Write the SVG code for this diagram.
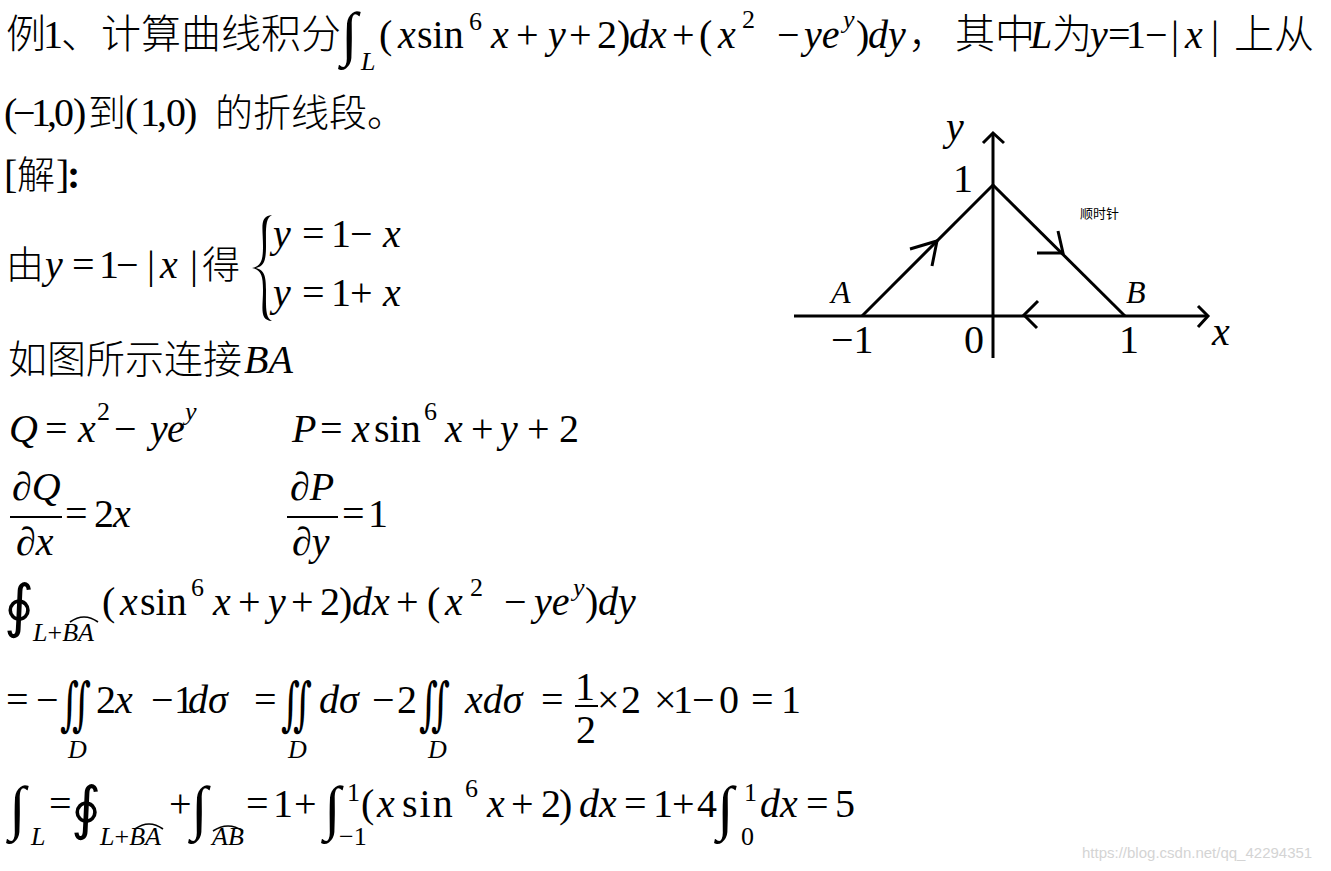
<svg xmlns="http://www.w3.org/2000/svg" width="1331" height="871" viewBox="0 0 1331 871">
<style>
.t{font-family:'Liberation Serif','Times New Roman',serif;font-size:40px;fill:#000}
.i{font-style:italic}
.s{font-size:26px}
.c{font-family:'Noto Sans CJK SC','Noto Sans CJK JP',sans-serif;font-size:38px;font-weight:300;fill:#000}
.c40{font-size:40px}
.int{font-family:'Liberation Serif','DejaVu Serif',serif;font-size:60px;fill:#000}
.int2{font-family:'DejaVu Serif','Liberation Serif',serif;font-size:58px;fill:#000}
.ln{stroke:#000;stroke-width:3;fill:none}
.thin{stroke:#000;stroke-width:1.6;fill:none}
.bar{stroke:#000;stroke-width:2}
.wm{font-family:'Liberation Sans',Arial,sans-serif;font-size:15px;fill:#d4d4d4}
</style>
<rect width="1331" height="871" fill="#fff"/>

<g id="line1">
<text class="c c40" y="48"><tspan x="6">例</tspan><tspan x="61">、计算曲线积分</tspan></text>
<text class="int" x="341" y="54">∫</text>
<text class="t" y="48"><tspan x="43">1</tspan><tspan class="i s" x="361" y="70">L</tspan><tspan x="379" y="48">(</tspan><tspan class="i" x="398">x</tspan><tspan x="417">sin</tspan><tspan class="s" x="469" y="30">6</tspan><tspan class="i" x="491" y="48">x</tspan><tspan x="516">+</tspan><tspan class="i" x="548">y</tspan><tspan x="569">+</tspan><tspan x="597">2</tspan><tspan x="617">)</tspan><tspan class="i" x="629">dx</tspan><tspan x="672">+</tspan><tspan x="699">(</tspan><tspan class="i" x="718">x</tspan><tspan class="s" x="742" y="28">2</tspan><tspan x="777" y="48">−</tspan><tspan class="i" x="804">ye</tspan><tspan class="i s" x="843" y="28">y</tspan><tspan x="856" y="48">)</tspan><tspan class="i" x="868">dy</tspan></text>
<text class="c c40" y="48"><tspan x="908">，</tspan><tspan x="955">其中</tspan><tspan x="1052">为</tspan><tspan x="1234">上从</tspan></text>
<text class="t" y="48"><tspan class="i" x="1030">L</tspan><tspan class="i" x="1090">y</tspan><tspan x="1108">=</tspan><tspan x="1126">1</tspan><tspan x="1145">−</tspan><tspan x="1171">|</tspan><tspan class="i" x="1185">x</tspan><tspan x="1211">|</tspan></text>
</g>

<g id="line2">
<text class="t" y="126"><tspan x="4">(</tspan><tspan x="13">−</tspan><tspan x="31">1</tspan><tspan x="47">,</tspan><tspan x="54">0</tspan><tspan x="73">)</tspan><tspan x="125">(</tspan><tspan x="140">1</tspan><tspan x="157">,</tspan><tspan x="166">0</tspan><tspan x="184">)</tspan></text>
<text class="c" y="126"><tspan x="88">到</tspan><tspan x="215">的折线段。</tspan></text>
</g>

<g id="line3">
<text class="t" y="188"><tspan x="4">[</tspan><tspan x="56">]</tspan><tspan x="67" font-weight="bold">:</tspan></text>
<text class="c" x="17" y="188">解</text>
</g>

<g id="line4">
<text class="c" y="278"><tspan x="6">由</tspan><tspan x="202">得</tspan></text>
<text class="t" y="278"><tspan class="i" x="45">y</tspan><tspan x="72">=</tspan><tspan x="99">1</tspan><tspan x="116">−</tspan><tspan x="147">|</tspan><tspan class="i" x="160">x</tspan><tspan x="190">|</tspan></text>
<path d="M272,215 C259,216 263,228 263,246 C263,261 261,266 252,268 C261,270 263,275 263,290 C263,308 259,320 272,321 C265,318 266,306 266,290 C266,275 264,270 256,268 C264,266 266,261 266,246 C266,230 265,218 272,215 Z" fill="#000"/>
<text class="t" y="247"><tspan class="i" x="273">y</tspan><tspan x="302">=</tspan><tspan x="331">1</tspan><tspan x="350">−</tspan><tspan class="i" x="383">x</tspan></text>
<text class="t" y="306"><tspan class="i" x="273">y</tspan><tspan x="302">=</tspan><tspan x="331">1</tspan><tspan x="350">+</tspan><tspan class="i" x="383">x</tspan></text>
</g>

<g id="line5">
<text class="c" x="8" y="373" style="font-size:39px">如图所示连接</text>
<text class="t i" x="244" y="373">BA</text>
</g>

<g id="line6">
<text class="t" y="442"><tspan class="i" x="9">Q</tspan><tspan x="45">=</tspan><tspan class="i" x="78">x</tspan><tspan class="s" x="97" y="420">2</tspan><tspan x="114" y="442">−</tspan><tspan class="i" x="150">y</tspan><tspan class="i" x="167">e</tspan><tspan class="i s" x="185" y="420">y</tspan></text>
<text class="t" y="442"><tspan class="i" x="292">P</tspan><tspan x="320">=</tspan><tspan class="i" x="352">x</tspan><tspan x="374">sin</tspan><tspan class="s" x="424" y="420">6</tspan><tspan class="i" x="445" y="442">x</tspan><tspan x="471">+</tspan><tspan class="i" x="500">y</tspan><tspan x="527">+</tspan><tspan x="559">2</tspan></text>
</g>

<g id="line7">
<text class="t i" x="12" y="500">∂Q</text>
<line class="bar" x1="10" y1="517" x2="62" y2="517"/>
<text class="t i" x="16" y="555">∂x</text>
<text class="t" y="527"><tspan x="65">=</tspan><tspan x="94">2</tspan><tspan class="i" x="113">x</tspan></text>
<text class="t i" x="290" y="500">∂P</text>
<line class="bar" x1="287" y1="517" x2="338" y2="517"/>
<text class="t i" x="292" y="555">∂y</text>
<text class="t" y="527"><tspan x="342">=</tspan><tspan x="368">1</tspan></text>
</g>

<g id="line8">
<text class="int2" x="4" y="626">∮</text>
<text class="t s" x="33" y="641"><tspan class="i">L</tspan>+<tspan class="i">BA</tspan></text>
<path class="thin" d="M70,622 Q84,612 98,622"/>
<text class="t" y="615"><tspan x="102">(</tspan><tspan class="i" x="120">x</tspan><tspan x="140">sin</tspan><tspan class="s" x="191" y="596">6</tspan><tspan class="i" x="213" y="615">x</tspan><tspan x="238">+</tspan><tspan class="i" x="268">y</tspan><tspan x="291">+</tspan><tspan x="320">2</tspan><tspan x="339">)</tspan><tspan class="i" x="352">dx</tspan><tspan x="396">+</tspan><tspan x="427">(</tspan><tspan class="i" x="445">x</tspan><tspan class="s" x="470" y="596">2</tspan><tspan x="504" y="615">−</tspan><tspan class="i" x="534">ye</tspan><tspan class="i s" x="573" y="596">y</tspan><tspan x="585" y="615">)</tspan><tspan class="i" x="598">dy</tspan></text>
</g>

<g id="line9">
<text class="int2" x="60" y="724" textLength="31" lengthAdjust="spacingAndGlyphs">∬</text>
<text class="int2" x="281" y="724" textLength="31" lengthAdjust="spacingAndGlyphs">∬</text>
<text class="int2" x="419" y="724" textLength="31" lengthAdjust="spacingAndGlyphs">∬</text>
<text class="t i s" y="758"><tspan x="68">D</tspan><tspan x="288">D</tspan><tspan x="428">D</tspan></text>
<text class="t" y="713"><tspan x="6">=</tspan><tspan x="36">−</tspan><tspan x="96">2</tspan><tspan class="i" x="115">x</tspan><tspan x="151">−</tspan><tspan x="174">1</tspan><tspan class="i" x="188">dσ</tspan><tspan x="254">=</tspan><tspan class="i" x="319">dσ</tspan><tspan x="372">−</tspan><tspan x="397">2</tspan><tspan class="i" x="465">xdσ</tspan><tspan x="541">=</tspan><tspan x="597">×</tspan><tspan x="621">2</tspan><tspan x="654">×</tspan><tspan x="673">1</tspan><tspan x="692">−</tspan><tspan x="719">0</tspan><tspan x="751">=</tspan><tspan x="781">1</tspan></text>
<text class="t" x="575" y="700">1</text>
<line class="bar" x1="575" y1="706" x2="598" y2="706"/>
<text class="t" x="576" y="743">2</text>
</g>

<g id="line10">
<text class="int" y="828"><tspan x="9">∫</tspan><tspan x="191">∫</tspan><tspan x="324">∫</tspan><tspan x="717">∫</tspan></text>
<text class="int2" x="71" y="828">∮</text>
<text class="t s" y="845"><tspan class="i" x="31">L</tspan><tspan class="i" x="100">L</tspan><tspan>+</tspan><tspan class="i">BA</tspan><tspan class="i" x="212">AB</tspan><tspan x="339">−1</tspan><tspan x="741">0</tspan></text>
<path class="thin" d="M135,829 Q149,819 163,829"/>
<path class="thin" d="M213,831 Q228,821 243,831"/>
<text class="t s" y="801"><tspan x="347">1</tspan><tspan x="744">1</tspan><tspan x="465" y="797">6</tspan></text>
<text class="t" y="817"><tspan x="361">(</tspan><tspan class="i" x="377">x</tspan><tspan x="402" letter-spacing="2">sin</tspan><tspan class="i" x="487">x</tspan><tspan x="511">+</tspan><tspan x="541">2</tspan><tspan x="559">)</tspan><tspan class="i" x="579">dx</tspan><tspan x="624">=</tspan><tspan x="653">1</tspan><tspan x="672">+</tspan><tspan x="697">4</tspan><tspan class="i" x="760">dx</tspan><tspan x="806">=</tspan><tspan x="835">5</tspan></text>
<text class="t" y="817"><tspan x="49">=</tspan><tspan x="169">+</tspan><tspan x="246">=</tspan><tspan x="273">1</tspan><tspan x="294">+</tspan></text>
</g>

<g id="figure">
<g id="connectors">
<line class="ln" x1="794" y1="316" x2="1208" y2="316"/>
<line class="ln" x1="993" y1="358" x2="993" y2="133"/>
<polyline class="ln" points="1198,306 1208,316 1198,327"/>
<polyline class="ln" points="983,143 993,133 1004,143"/>
<line class="ln" x1="862" y1="316" x2="993" y2="185"/>
<line class="ln" x1="993" y1="185" x2="1125" y2="316"/>
<polyline class="ln" points="910,249 937,241 932,266"/>
<polyline class="ln" points="1058,231 1063,253 1037,253"/>
<polyline class="ln" points="1038,301 1024,315 1037,328"/>
</g>
<g id="labels">
<text class="t i" x="946" y="140">y</text>
<text class="t" x="953" y="192">1</text>
<text class="c" x="1080" y="218" style="font-size:13px;font-weight:400">顺时针</text>
<text class="t i" x="831" y="303" style="font-size:32px">A</text>
<text class="t i" x="1126" y="303" style="font-size:32px">B</text>
<text class="t" x="831" y="353">−1</text>
<text class="t" x="964" y="353">0</text>
<text class="t" x="1119" y="353">1</text>
<text class="t i" x="1212" y="345">x</text>
</g>
</g>

<text class="wm" x="1082" y="858">https://blog.csdn.net/qq_42294351</text>
</svg>
